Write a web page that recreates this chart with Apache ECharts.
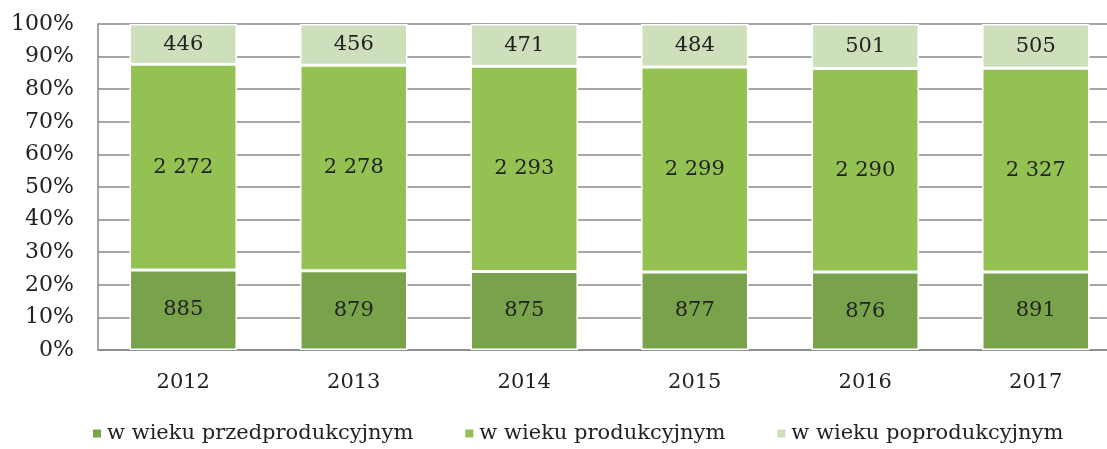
<!DOCTYPE html>
<html>
<head>
<meta charset="utf-8">
<script src="https://cdn.jsdelivr.net/npm/echarts@6/dist/echarts.min.js"></script>
<style>
  html, body { margin: 0; padding: 0; background: #fff; }
  #chart { width: 1107px; height: 449px; }
</style>
</head>
<body>
<div id="chart"></div>
<script>
const years = ["2012", "2013", "2014", "2015", "2016", "2017"];
const preProductive = [885, 879, 875, 877, 876, 891];
const productive = [2272, 2278, 2293, 2299, 2290, 2327];
const postProductive = [446, 456, 471, 484, 501, 505];
const seriesNames = ["w wieku przedprodukcyjnym", "w wieku produkcyjnym", "w wieku poprodukcyjnym"];
const colors = ["#79a34a", "#93c152", "#cde0bb"];

const totals = years.map((_, i) => preProductive[i] + productive[i] + postProductive[i]);
const fmt = v => String(v).replace(/\B(?=(\d{3})+(?!\d))/g, " ");
const FONT = "DejaVu Serif";

const chart = echarts.init(document.getElementById("chart"));

const makeSeries = (name, values, color) => ({
  name: name,
  type: "bar",
  stack: "total",
  barWidth: "63%",
  data: values.map((v, i) => ({ value: v / totals[i] * 100, raw: v })),
  itemStyle: { color: color, borderColor: "#fff", borderWidth: 1.5 },
  label: {
    show: true,
    position: "inside",
    color: "#222",
    fontFamily: FONT,
    fontSize: 21,
    formatter: p => fmt(p.data.raw)
  }
});

const option = {
  backgroundColor: "#fff",
  animation: false,
  color: colors,
  // plot area runs past the right edge of the picture, as in the reference
  grid: { left: 98, width: 1023, top: 24, bottom: 99, outerBoundsMode: "none", containLabel: false },
  legend: {
    bottom: 0,
    left: 86,
    itemWidth: 10,
    itemHeight: 10,
    itemGap: 50,
    icon: "rect",
    textStyle: { fontFamily: FONT, fontSize: 21, color: "#222" },
    data: seriesNames
  },
  xAxis: {
    type: "category",
    data: years,
    axisLine: { lineStyle: { color: "#888", width: 1.5 } },
    axisTick: { show: false },
    axisLabel: { margin: 22, fontFamily: FONT, fontSize: 21, color: "#222" }
  },
  yAxis: {
    type: "value",
    min: 0,
    max: 100,
    interval: 10,
    axisLine: { show: true, lineStyle: { color: "#888", width: 1.5 } },
    axisTick: { show: false },
    splitLine: { lineStyle: { color: "#888", width: 1.5 } },
    axisLabel: { margin: 24, fontFamily: FONT, fontSize: 22, color: "#222", formatter: "{value}%" }
  },
  series: [
    makeSeries(seriesNames[0], preProductive, colors[0]),
    makeSeries(seriesNames[1], productive, colors[1]),
    makeSeries(seriesNames[2], postProductive, colors[2])
  ]
};

chart.setOption(option);
</script>
</body>
</html>
